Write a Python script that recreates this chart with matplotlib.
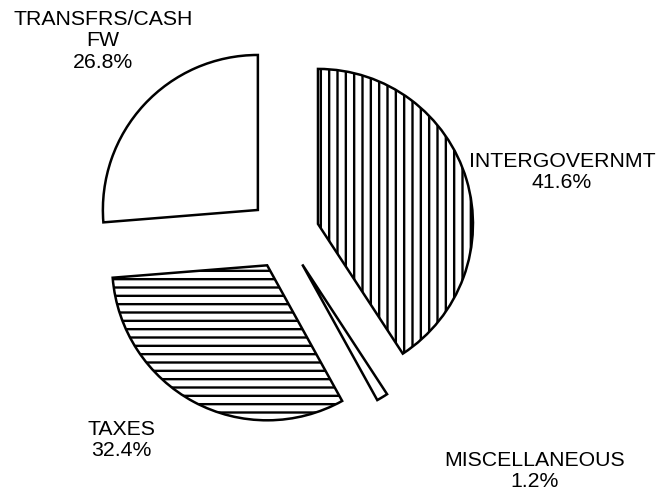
import matplotlib
matplotlib.use("Agg")
import matplotlib.pyplot as plt

# Revenue shares by source (percent, as printed on the labels)
sources = ["INTERGOVERNMT", "MISCELLANEOUS", "TAXES", "TRANSFRS/CASH\nFW"]
shares = [41.6, 1.2, 32.4, 26.8]

# Hatch pattern for each slice
hatches = ["||", "", "--", ""]

# Label centres in pie units (radius = 1, pie centre at origin)
label_xy = [(1.794, 0.400), (1.619, -1.529), (-1.048, -1.329), (-1.168, 1.248)]

plt.rcParams["font.family"] = ["Liberation Sans", "DejaVu Sans"]
plt.rcParams["hatch.linewidth"] = 1.7
plt.rcParams["hatch.color"] = "black"

fig = plt.figure(figsize=(6.62, 4.98), dpi=100)
ax = fig.add_axes([0, 0, 1, 1])

labels = [f"{name}\n{value:.1f}%" for name, value in zip(sources, shares)]
wedges, texts = ax.pie(
    shares,
    labels=labels,
    explode=[0.229] * len(shares),
    startangle=90,
    counterclock=False,
    radius=1.0,
    wedgeprops=dict(facecolor="white", edgecolor="black", linewidth=1.8),
    textprops=dict(fontsize=15.3, color="black"),
)

for w, h in zip(wedges, hatches):
    w.set_hatch(h)
    w.set_joinstyle("miter")

for t, (x, y) in zip(texts, label_xy):
    t.set_position((x, y))
    t.set_horizontalalignment("center")
    t.set_verticalalignment("center")
    t.set_multialignment("center")
    t.set_linespacing(1.17)

ax.set_aspect("equal")
ax.set_xlim(-1.832, 2.439)
ax.set_ylim(-1.703, 1.510)
ax.axis("off")

fig.savefig("out.png", dpi=100, facecolor="white")
